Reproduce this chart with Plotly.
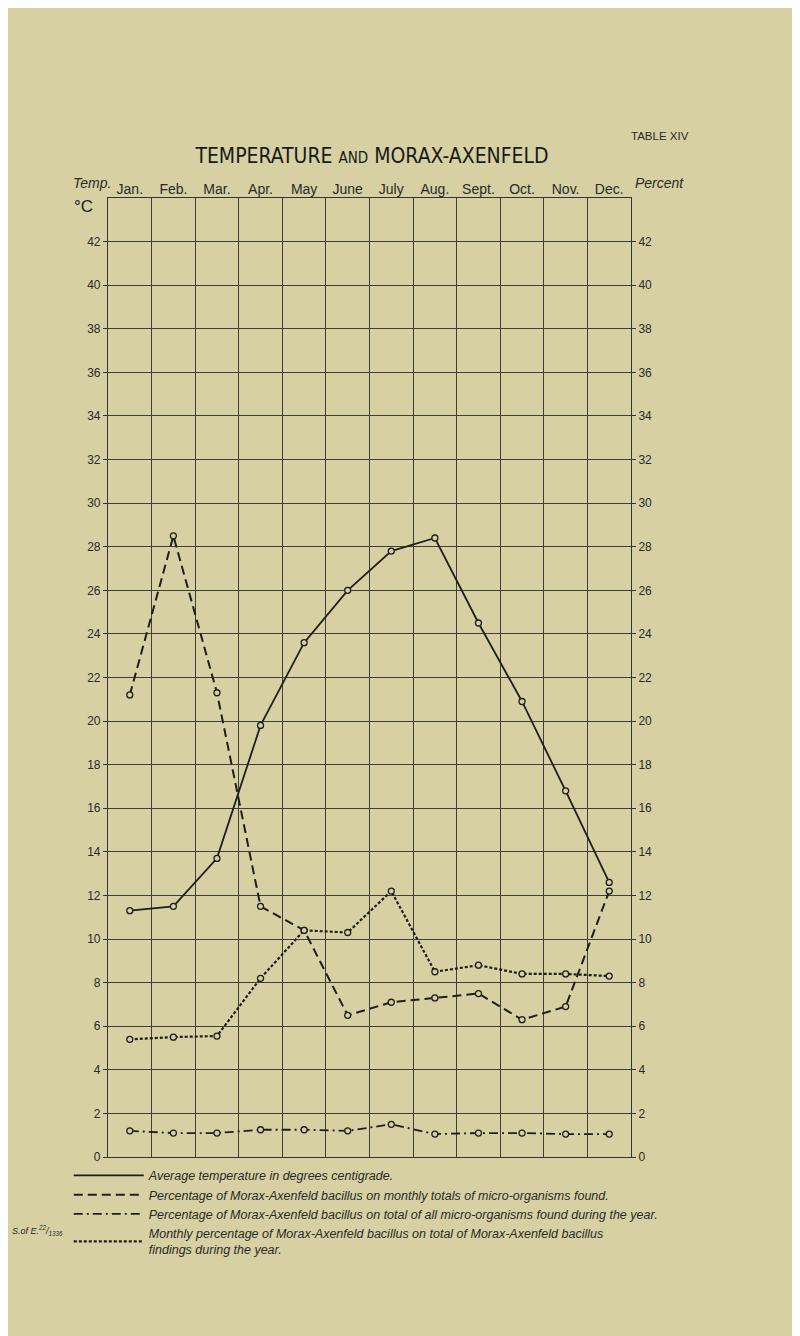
import plotly.graph_objects as go

months = ["Jan.", "Feb.", "Mar.", "Apr.", "May", "June", "July", "Aug.", "Sept.", "Oct.", "Nov.", "Dec."]
temperature = [11.3, 11.5, 13.7, 19.8, 23.6, 26.0, 27.8, 28.4, 24.5, 20.9, 16.8, 12.6]
pct_monthly_totals = [21.2, 28.5, 21.3, 11.5, 10.4, 6.5, 7.1, 7.3, 7.5, 6.3, 6.9, 12.2]
pct_year_total_all = [1.2, 1.1, 1.1, 1.25, 1.25, 1.2, 1.5, 1.05, 1.1, 1.1, 1.05, 1.05]
pct_of_ma_findings = [5.4, 5.5, 5.55, 8.2, 10.4, 10.3, 12.2, 8.5, 8.8, 8.4, 8.4, 8.3]
y_ticks = list(range(0, 43, 2))

legend_texts = [
    "Average temperature in degrees centigrade.",
    "Percentage of Morax-Axenfeld bacillus on monthly totals of micro-organisms found.",
    "Percentage of Morax-Axenfeld bacillus on total of all micro-organisms found during the year.",
    "Monthly percentage of Morax-Axenfeld bacillus on total of Morax-Axenfeld bacillus<br>findings during the year.",
]

BG = "#d6d0a2"
INK = "#1e1e1e"
GRID = "#3f3f3a"
FONT = "Liberation Sans, DejaVu Sans, sans-serif"

x = list(range(12))
series = [
    (temperature, "solid", 1.8),
    (pct_monthly_totals, "9px,5px", 2.0),
    (pct_year_total_all, "9px,4px,2px,4px", 1.8),
    (pct_of_ma_findings, "3px,2px", 2.2),
]

fig = go.Figure()
for vals, dash, w in series:
    fig.add_trace(go.Scatter(
        x=x, y=vals, mode="lines+markers", showlegend=False,
        line=dict(color=INK, width=w, dash=dash),
        marker=dict(symbol="circle", size=6, color=BG, line=dict(color=INK, width=1.3)),
        hoverinfo="skip",
    ))
for (vals, dash, w), txt in zip(series, legend_texts):
    fig.add_trace(go.Scatter(
        x=[None], y=[None], mode="lines", name=txt, xaxis="x2", yaxis="y2",
        line=dict(color=INK, width=w, dash=dash),
    ))

fig.update_layout(
    width=800, height=1336,
    paper_bgcolor=BG, plot_bgcolor=BG,
    margin=dict(l=100, r=177, t=190, b=187),
    font=dict(family=FONT, color="#2a2a2a", size=12),
    title=dict(
        text="TEMPERATURE <span style='font-size:15px'>AND</span> MORAX-AXENFELD",
        x=0.455, y=1 - 148 / 1336, xref="container", yref="container",
        xanchor="center", yanchor="middle",
        font=dict(family="Liberation Sans Narrow, DejaVu Sans Condensed, Liberation Sans, sans-serif",
                  size=21, color="#1a1a1a"),
    ),
    xaxis=dict(
        range=[-0.5, 11.5], tickvals=[i + 0.5 for i in range(11)], showticklabels=False,
        showgrid=True, gridcolor=GRID, gridwidth=1, zeroline=False,
        showline=True, mirror=True, linecolor="#333", linewidth=1.2, ticks="",
    ),
    xaxis2=dict(
        range=[-0.5, 11.5], overlaying="x", side="top", tickvals=x, ticktext=months,
        showgrid=False, zeroline=False, showline=False, ticks="",
        tickfont=dict(size=14, color="#2a2a2a"),
    ),
    yaxis=dict(
        range=[0, 44], tickvals=y_ticks, showgrid=True, gridcolor=GRID, gridwidth=1,
        zeroline=False, showline=True, mirror=True, linecolor="#333", linewidth=1.2,
        ticks="outside", ticklen=4, tickcolor="#333", tickfont=dict(size=12),
    ),
    yaxis2=dict(
        range=[0, 44], tickvals=y_ticks, overlaying="y", side="right", showgrid=False,
        zeroline=False, showline=False, ticks="outside", ticklen=4, tickcolor="#333",
        tickfont=dict(size=12),
    ),
    legend=dict(
        x=-0.075, y=-0.004, xanchor="left", yanchor="top", orientation="v",
        bgcolor="rgba(0,0,0,0)", itemwidth=70, tracegroupgap=0,
        font=dict(family=FONT, size=12.5, style="italic", color="#2a2a2a"),
    ),
    annotations=[
        dict(text="TABLE XIV", xref="paper", yref="paper", x=(621 - 100) / 523, y=(1149 - 128) / 959,
             xanchor="left", yanchor="middle", showarrow=False, font=dict(size=11.5, color="#2a2a2a")),
        dict(text="<i>Temp.</i>", xref="paper", yref="paper", x=(63 - 100) / 523, y=(1149 - 175) / 959,
             xanchor="left", yanchor="middle", showarrow=False, font=dict(size=14)),
        dict(text="<i>Percent</i>", xref="paper", yref="paper", x=(625 - 100) / 523, y=(1149 - 175) / 959,
             xanchor="left", yanchor="middle", showarrow=False, font=dict(size=14)),
        dict(text="°C", xref="paper", yref="paper", x=(75 - 100) / 523, y=(1149 - 198) / 959,
             xanchor="center", yanchor="middle", showarrow=False, font=dict(size=17, color="#222")),
        dict(text="<i>S.of E.<sup>22</sup>/<sub>1336</sub></i>", xref="paper", yref="paper",
             x=(2 - 100) / 523, y=(1149 - 1222) / 959,
             xanchor="left", yanchor="middle", showarrow=False, font=dict(size=9)),
    ],
)

fig.write_html("out.html")
